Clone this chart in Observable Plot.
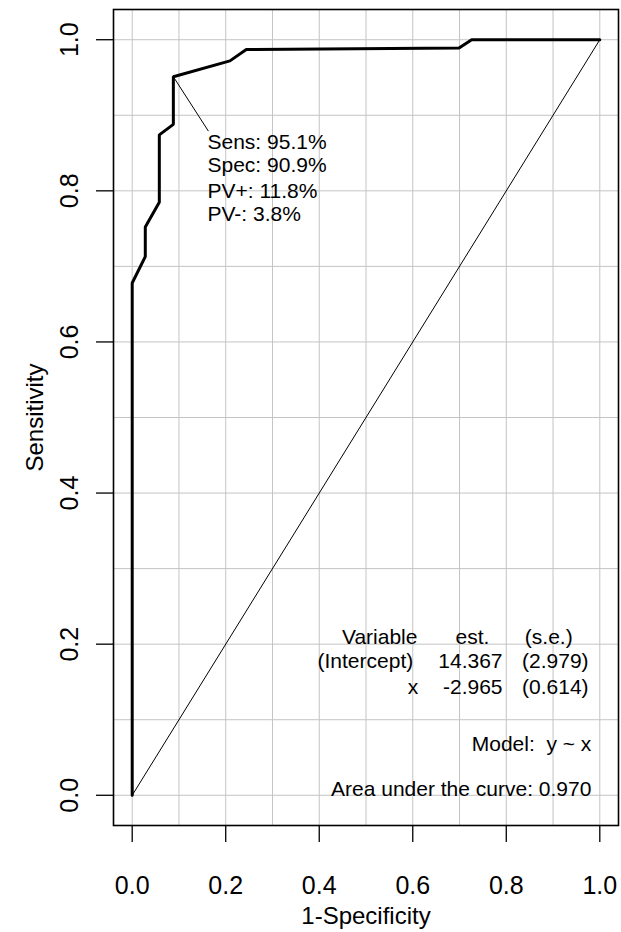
<!DOCTYPE html>
<html>
<head>
<meta charset="utf-8">
<script src="https://cdn.jsdelivr.net/npm/d3@7"></script>
<script src="https://cdn.jsdelivr.net/npm/@observablehq/plot@0.6"></script>
<style>
  html, body { margin: 0; padding: 0; background: #fff; }
  #chart svg { display: block; }
</style>
</head>
<body>
<div id="chart"></div>
<script>
// ROC curve vertices (1-Specificity, Sensitivity)
const fpr = [0, 0, 0.028, 0.028, 0.058, 0.058, 0.088, 0.088, 0.209, 0.244, 0.699, 0.726, 1];
const tpr = [0, 0.678, 0.713, 0.752, 0.785, 0.874, 0.888, 0.951, 0.972, 0.987, 0.989, 1, 1];

// reference diagonal
const diagX = [0, 1];
const diagY = [0, 1];

// axis ticks and grid
const axisTicks = [0, 0.2, 0.4, 0.6, 0.8, 1.0];
const gridTicks = [0, 0.1, 0.2, 0.3, 0.4, 0.5, 0.6, 0.7, 0.8, 0.9, 1.0];

// optimal cut-point annotation
const cutPoint = {x: 0.088, y: 0.951};
const cutLabelAnchor = {x: 0.163, y: 0.879};
const cutLines = ["Sens: 95.1%", "Spec: 90.9%", "PV+: 11.8%", "PV-: 3.8%"];
const cutLinesX = [0.161, 0.161, 0.161, 0.161];
const cutLinesY = [0.856, 0.825, 0.791, 0.760];

// model table
const tableText = ["Variable", "est.", "(s.e.)", "(Intercept)", "14.367", "(2.979)", "x", "-2.965", "(0.614)"];
const tableX = [0.610, 0.764, 0.942, 0.601, 0.792, 0.976, 0.612, 0.792, 0.976];
const tableY = [0.2005, 0.2005, 0.2005, 0.169, 0.169, 0.169, 0.134, 0.134, 0.134];

const footText = ["Model:\u00a0 y ~ x", "Area under the curve: 0.970"];
const footX = [0.982, 0.982];
const footY = [0.059, -0.001];

const roc = fpr.map((x, i) => ({x, y: tpr[i]}));
const diag = diagX.map((x, i) => ({x, y: diagY[i]}));
const cutText = cutLines.map((t, i) => ({t, x: cutLinesX[i], y: cutLinesY[i]}));
const table = tableText.map((t, i) => ({t, x: tableX[i], y: tableY[i]}));
const foot = footText.map((t, i) => ({t, x: footX[i], y: footY[i]}));

const chart = Plot.plot({
  width: 621,
  height: 932,
  marginLeft: 113,
  marginRight: 3,
  marginTop: 9,
  marginBottom: 107,
  style: {fontFamily: "'Liberation Sans', Arial, Helvetica, sans-serif", background: "#fff", color: "#000"},
  x: {domain: [-0.04, 1.04]},
  y: {domain: [-0.04, 1.04]},
  marks: [
    Plot.ruleX(gridTicks, {stroke: "#c4c4c4", strokeWidth: 1}),
    Plot.ruleY(gridTicks, {stroke: "#c4c4c4", strokeWidth: 1}),
    Plot.line(diag, {x: "x", y: "y", stroke: "#000", strokeWidth: 1}),
    Plot.line(roc, {x: "x", y: "y", stroke: "#000", strokeWidth: 3, strokeLinejoin: "miter"}),
    Plot.link([cutPoint], {x1: "x", y1: "y", x2: () => cutLabelAnchor.x, y2: () => cutLabelAnchor.y, stroke: "#000", strokeWidth: 1}),
    Plot.text(cutText, {x: "x", y: "y", text: "t", textAnchor: "start", lineAnchor: "bottom", fontSize: 21, fill: "#000"}),
    Plot.text(table, {x: "x", y: "y", text: "t", textAnchor: "end", lineAnchor: "bottom", fontSize: 21, fill: "#000"}),
    Plot.text(foot, {x: "x", y: "y", text: "t", textAnchor: "end", lineAnchor: "bottom", fontSize: 21, fill: "#000"}),
    Plot.frame({stroke: "#000", strokeWidth: 1.6}),
    Plot.axisX(axisTicks, {tickSize: 17, tickPadding: 34, fontSize: 25, strokeWidth: 1.3, tickFormat: d3.format(".1f"), label: null}),
    Plot.axisY(axisTicks, {tickSize: 17, tickPadding: 19, tickRotate: -90, fontSize: 25, strokeWidth: 1.3, tickFormat: d3.format(".1f"), label: null}),
    Plot.text(["1-Specificity"], {frameAnchor: "bottom", dy: 98, lineAnchor: "bottom", fontSize: 24, fill: "#000"}),
    Plot.text(["Sensitivity"], {frameAnchor: "left", dx: -78, rotate: -90, textAnchor: "middle", lineAnchor: "middle", fontSize: 24, fill: "#000"})
  ]
});
document.getElementById("chart").appendChild(chart);
</script>
</body>
</html>
